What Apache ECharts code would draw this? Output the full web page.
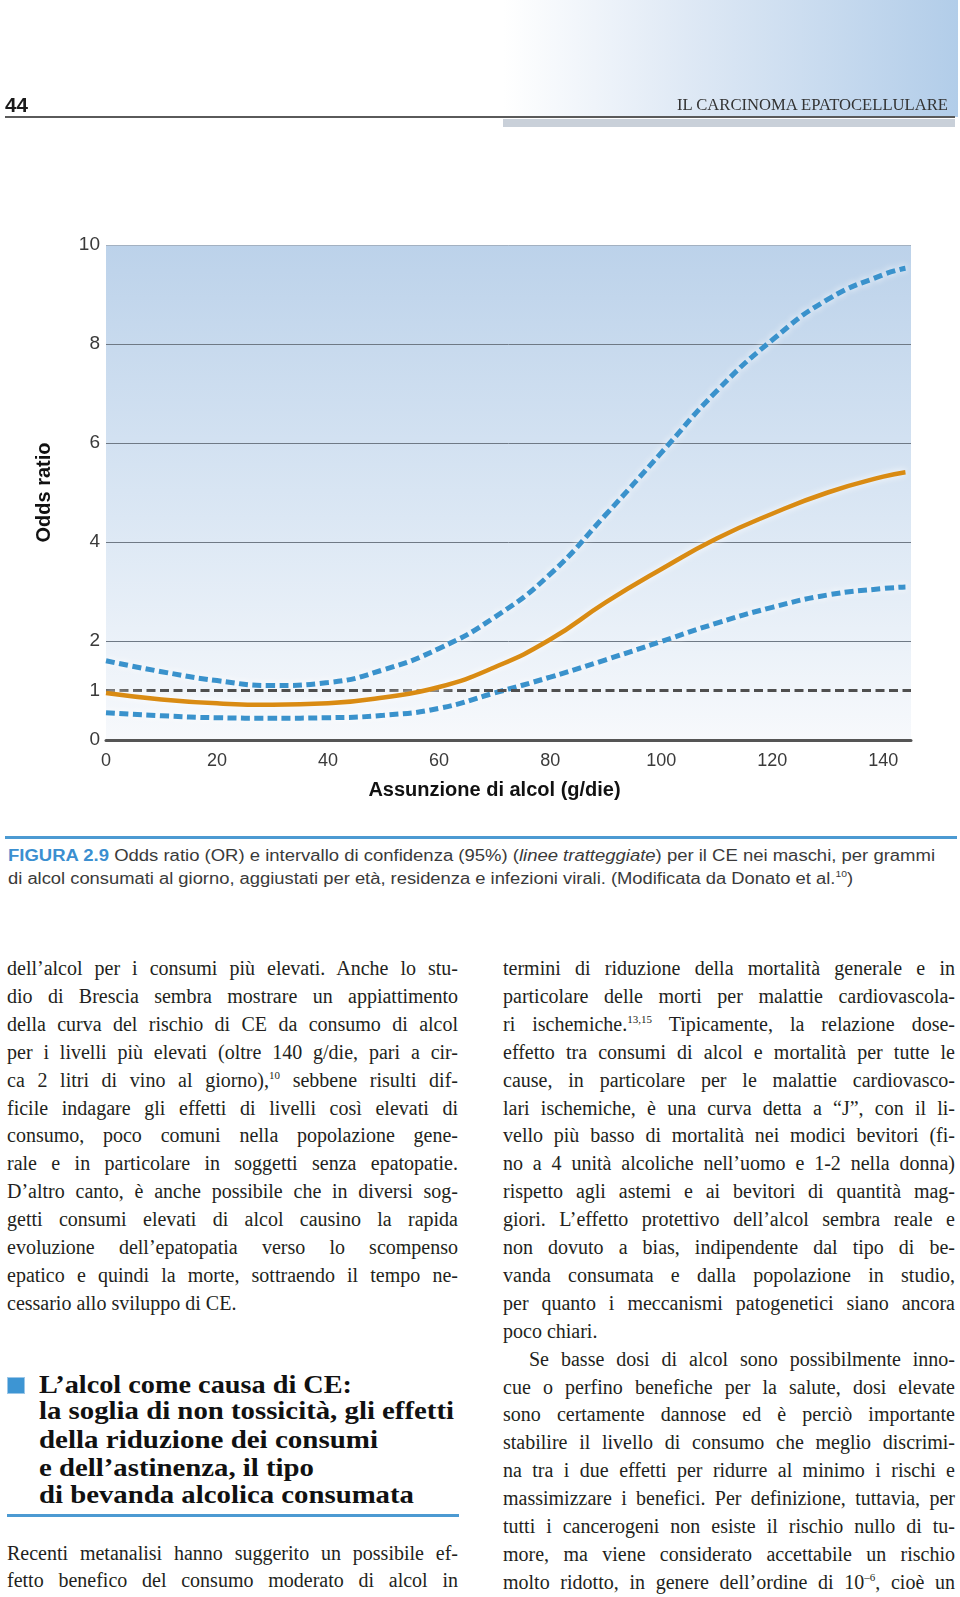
<!DOCTYPE html>
<html><head><meta charset="utf-8">
<script src="https://cdn.jsdelivr.net/npm/echarts@6/dist/echarts.min.js"></script>
<style>
html,body{margin:0;padding:0;background:#fff;}
body{width:960px;height:1597px;position:relative;overflow:hidden;}
.abs{position:absolute;white-space:nowrap;display:inline-block;}
#chart{position:absolute;left:0;top:0;width:960px;height:830px;}
.body{font-family:"Liberation Serif","Times New Roman",serif;font-size:20px;line-height:28px;color:#231f20;}
.head{font-family:"Liberation Serif","Times New Roman",serif;font-weight:bold;font-size:25px;line-height:28px;color:#111;}
.cap{font-family:"Liberation Sans",Arial,sans-serif;font-size:16px;line-height:20px;color:#3a3a3a;}
.cap b{color:#3b8fd0;}
sup{font-size:11px;vertical-align:baseline;position:relative;top:-8px;line-height:0;}
.cap sup{font-size:9px;top:-7px;}
</style></head>
<body>
<div id="hdrgrad" style="position:absolute;left:503px;top:0;width:455px;height:117px;background:linear-gradient(to right,#ffffff 0%,#dfe9f5 40%,#b2cde9 100%);"></div>
<div style="position:absolute;left:5px;top:116px;width:950px;height:2px;background:#5a5a5a;"></div>
<div style="position:absolute;left:503px;top:119px;width:452px;height:8px;background:#c9d0d9;"></div>
<div style="position:absolute;left:5px;top:836px;width:952px;height:3px;background:#4c9ad2;"></div>
<div style="position:absolute;left:7px;top:1377px;width:18px;height:17px;background:#3d95d3;box-shadow:0 0 0 1px #9cc7e8 inset;"></div>
<div style="position:absolute;left:7px;top:1514px;width:452px;height:3px;background:#4c9ad2;"></div>
<div id="chart"></div>
<script>
// ---- chart data ----
const xValues   = [0, 10, 20, 30, 40, 50, 60, 70, 80, 90, 100, 110, 120, 130, 140, 144];
const oddsRatio = [0.95, 0.82, 0.74, 0.71, 0.74, 0.86, 1.07, 1.47, 2.03, 2.78, 3.45, 4.07, 4.57, 5.00, 5.32, 5.41];
const upperCI   = [1.60, 1.38, 1.20, 1.10, 1.16, 1.42, 1.85, 2.48, 3.35, 4.55, 5.80, 7.05, 8.08, 8.90, 9.40, 9.53];
const lowerCI   = [0.55, 0.49, 0.45, 0.44, 0.45, 0.50, 0.64, 0.95, 1.27, 1.62, 1.99, 2.36, 2.68, 2.93, 3.06, 3.09];
const refX = [0, 145];
const refY = [1, 1];
const xTickLabels = [0, 20, 40, 60, 80, 100, 120, 140];
const yTickLabels = [0, 1, 2, 4, 6, 8, 10];

function zip(xs, ys){ return xs.map((x,i)=>[x, ys[i]]); }

const chart = echarts.init(document.getElementById('chart'), null, {renderer:'canvas'});
const halo = {shadowColor:'rgba(255,255,255,0.95)', shadowBlur:7};
chart.setOption({
  animation:false,
  grid:{left:106, top:245, width:805, height:495, show:true, borderWidth:0,
    backgroundColor:new echarts.graphic.LinearGradient(0,0,0,1,[{offset:0,color:'#bcd2ea'},{offset:0.55,color:'#dbe7f4'},{offset:1,color:'#f7f9fc'}])},
  xAxis:{type:'value', min:0, max:145, interval:20,
    name:'Assunzione di alcol (g/die)', nameLocation:'middle', nameGap:40,
    nameTextStyle:{fontFamily:'Liberation Sans', fontWeight:'bold', fontSize:20, color:'#111', padding:[0,28,0,0]},
    axisLine:{lineStyle:{color:'#555', width:3}}, axisTick:{show:false},
    axisLabel:{customValues:xTickLabels, fontFamily:'Liberation Sans', fontSize:18, color:'#3a3a3a', margin:12},
    splitLine:{show:false}},
  yAxis:{type:'value', min:0, max:10, interval:2,
    name:'Odds ratio', nameLocation:'middle', nameGap:52,
    nameTextStyle:{fontFamily:'Liberation Sans', fontWeight:'bold', fontSize:20, color:'#111'},
    axisLine:{show:false}, axisTick:{show:false},
    axisLabel:{customValues:yTickLabels, fontFamily:'Liberation Sans', fontSize:19, color:'#3a3a3a', margin:6, padding:[5,0,0,0]},
    splitLine:{show:true, lineStyle:{color:['#555','#6f7985','#6f7985','#6f7985','#6f7985','#a3b1c1'], width:[1]}}},
  series:[
    {type:'line', data:zip(xValues, upperCI), smooth:0.5, showSymbol:false, z:2,
      lineStyle:Object.assign({color:'#3a92cc', width:5, type:[9,4.5]}, halo)},
    {type:'line', data:zip(xValues, lowerCI), smooth:0.5, showSymbol:false, z:2,
      lineStyle:Object.assign({color:'#3a92cc', width:5, type:[9,4.5]}, halo)},
    {type:'line', data:zip(refX, refY), showSymbol:false, z:3,
      lineStyle:{color:'#4f4f4f', width:3.2, type:[9,4.5]}},
    {type:'line', data:zip(xValues, oddsRatio), smooth:0.5, showSymbol:false, z:4,
      lineStyle:Object.assign({color:'#d98b13', width:4.5}, halo)}
  ]
});

// ---- page text ----
function addLine(html, x, top, w, mode, cls){
  const d=document.createElement('div');
  d.className='abs '+cls;
  d.style.left=x+'px'; d.style.top=top+'px';
  d.innerHTML=html;
  document.body.appendChild(d);
  const nat=d.getBoundingClientRect().width;
  if(mode==='justify'){
    const n=(d.textContent.match(/ /g)||[]).length;
    if(n>0) d.style.wordSpacing=((w-nat)/n)+'px';
  } else if(mode==='fit'){
    d.style.transformOrigin='left center';
    d.style.transform='scaleX('+(w/nat)+')';
  }
  return d;
}
function fitEl(d, w){ const nat=d.getBoundingClientRect().width; d.style.transformOrigin='left center'; d.style.transform='scaleX('+(w/nat)+')'; }
// header
const pg=document.createElement('div'); pg.className='abs'; pg.textContent='44';
pg.style.cssText+=';left:5px;top:93px;font-family:"Liberation Sans Narrow","Liberation Sans",Arial;font-weight:bold;font-size:21px;line-height:24px;color:#1a1a1a;';
document.body.appendChild(pg); fitEl(pg, 23);
const ht=document.createElement('div'); ht.className='abs'; ht.textContent='IL CARCINOMA EPATOCELLULARE';
ht.style.cssText+=';left:677px;top:94px;font-family:"Liberation Serif",serif;font-size:17px;line-height:22px;color:#333;';
document.body.appendChild(ht); fitEl(ht, 271);

// caption
const capLines=[
  ['<b>FIGURA 2.9</b> Odds ratio (OR) e intervallo di confidenza (95%) (<i>linee tratteggiate</i>) per il CE nei maschi, per grammi', 857, 927],
  ['di alcol consumati al giorno, aggiustati per età, residenza e infezioni virali. (Modificata da Donato et al.<sup>10</sup>)', 880, 845]
];
capLines.forEach(l=>addLine(l[0], 8, l[1]-11, l[2], 'fit', 'cap'));

// body text
const leftLines=[
 ['dell’alcol per i consumi più elevati. Anche lo stu-',1],
 ['dio di Brescia sembra mostrare un appiattimento',1],
 ['della curva del rischio di CE da consumo di alcol',1],
 ['per i livelli più elevati (oltre 140 g/die, pari a cir-',1],
 ['ca 2 litri di vino al giorno),<sup>10</sup> sebbene risulti dif-',1],
 ['ficile indagare gli effetti di livelli così elevati di',1],
 ['consumo, poco comuni nella popolazione gene-',1],
 ['rale e in particolare in soggetti senza epatopatie.',1],
 ['D’altro canto, è anche possibile che in diversi sog-',1],
 ['getti consumi elevati di alcol causino la rapida',1],
 ['evoluzione dell’epatopatia verso lo scompenso',1],
 ['epatico e quindi la morte, sottraendo il tempo ne-',1],
 ['cessario allo sviluppo di CE.',0]
];
leftLines.forEach((l,i)=>addLine(l[0], 7, 970+i*27.9-16, 451, l[1]?'justify':'none', 'body'));
const rightLines=[
 ['termini di riduzione della mortalità generale e in',1,0],
 ['particolare delle morti per malattie cardiovascola-',1,0],
 ['ri ischemiche.<sup>13,15</sup> Tipicamente, la relazione dose-',1,0],
 ['effetto tra consumi di alcol e mortalità per tutte le',1,0],
 ['cause, in particolare per le malattie cardiovasco-',1,0],
 ['lari ischemiche, è una curva detta a “J”, con il li-',1,0],
 ['vello più basso di mortalità nei modici bevitori (fi-',1,0],
 ['no a 4 unità alcoliche nell’uomo e 1-2 nella donna)',1,0],
 ['rispetto agli astemi e ai bevitori di quantità mag-',1,0],
 ['giori. L’effetto protettivo dell’alcol sembra reale e',1,0],
 ['non dovuto a bias, indipendente dal tipo di be-',1,0],
 ['vanda consumata e dalla popolazione in studio,',1,0],
 ['per quanto i meccanismi patogenetici siano ancora',1,0],
 ['poco chiari.',0,0],
 ['Se basse dosi di alcol sono possibilmente inno-',1,26],
 ['cue o perfino benefiche per la salute, dosi elevate',1,0],
 ['sono certamente dannose ed è perciò importante',1,0],
 ['stabilire il livello di consumo che meglio discrimi-',1,0],
 ['na tra i due effetti per ridurre al minimo i rischi e',1,0],
 ['massimizzare i benefici. Per definizione, tuttavia, per',1,0],
 ['tutti i cancerogeni non esiste il rischio nullo di tu-',1,0],
 ['more, ma viene considerato accettabile un rischio',1,0],
 ['molto ridotto, in genere dell’ordine di 10<sup>–6</sup>, cioè un',1,0]
];
rightLines.forEach((l,i)=>addLine(l[0], 503+l[2], 970+i*27.9-16, 452-l[2], l[1]?'justify':'none', 'body'));

// heading
const headLines=[
 ['L’alcol come causa di CE:',1387,313],
 ['la soglia di non tossicità, gli effetti',1413,415],
 ['della riduzione dei consumi',1442,339],
 ['e dell’astinenza, il tipo',1470,275],
 ['di bevanda alcolica consumata',1497,375]
];
headLines.forEach(l=>addLine(l[0], 39, l[1]-16, l[2], 'fit', 'head'));
addLine('Recenti metanalisi hanno suggerito un possibile ef-', 7, 1555-16, 451, 'justify', 'body');
addLine('fetto benefico del consumo moderato di alcol in', 7, 1582-16, 451, 'justify', 'body');
</script>
</body></html>
